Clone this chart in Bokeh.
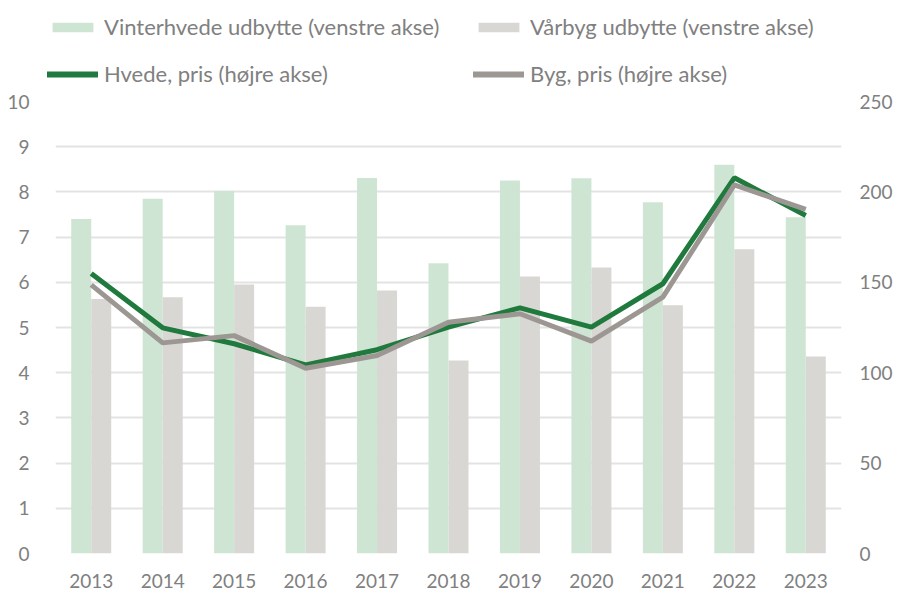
from bokeh.plotting import figure
from bokeh.layouts import column
from bokeh.models import (ColumnDataSource, FactorRange, Range1d, LinearAxis,
                          Legend, LegendItem, FixedTicker)
from bokeh.transform import dodge
from bokeh.embed import file_html
from bokeh.resources import INLINE

years = ["2013", "2014", "2015", "2016", "2017", "2018", "2019", "2020", "2021", "2022", "2023"]
vinterhvede_udbytte = [7.40, 7.85, 8.02, 7.26, 8.31, 6.42, 8.25, 8.30, 7.77, 8.60, 7.44]
vaarbyg_udbytte = [5.63, 5.67, 5.95, 5.46, 5.82, 4.27, 6.13, 6.33, 5.49, 6.73, 4.36]
hvede_pris = [154.9, 124.8, 116.0, 104.3, 112.7, 125.2, 135.9, 125.2, 149.2, 207.8, 186.9]
byg_pris = [148.6, 116.5, 120.5, 102.5, 109.5, 127.9, 132.6, 117.5, 141.8, 203.9, 190.3]

left_ticks = [0, 1, 2, 3, 4, 5, 6, 7, 8, 9, 10]
right_ticks = [0, 50, 100, 150, 200, 250]

labels = ["Vinterhvede udbytte (venstre akse)", "Vårbyg udbytte (venstre akse)",
          "Hvede, pris (højre akse)", "Byg, pris (højre akse)"]

FONT = "Lato"
TXT = "#808080"
GREEN_BAR = "#cfe5d3"
GREY_BAR = "#d9d7d3"
GREEN_LINE = "#217a3d"
GREY_LINE = "#9c9792"

W = 898
TOP_H = 87
MAIN_H = 506

src = ColumnDataSource(dict(year=years, wheat=vinterhvede_udbytte, barley=vaarbyg_udbytte,
                            wp=hvede_pris, bp=byg_pris))

p = figure(width=W, height=MAIN_H, output_backend="svg", toolbar_location=None,
           x_range=FactorRange(factors=years, range_padding=0),
           y_range=Range1d(0, 10))
p.min_border_left = 55
p.min_border_right = 57
p.min_border_top = 14
p.min_border_bottom = 40
p.outline_line_color = None
p.background_fill_color = "white"
p.border_fill_color = "white"

p.extra_y_ranges = {"price": Range1d(0, 250)}

p.vbar(x=dodge("year", -0.14, range=p.x_range), top="wheat", width=0.28,
       source=src, fill_color=GREEN_BAR, line_color=None)
p.vbar(x=dodge("year", 0.14, range=p.x_range), top="barley", width=0.28,
       source=src, fill_color=GREY_BAR, line_color=None)
p.line(x="year", y="wp", source=src, y_range_name="price",
       line_color=GREEN_LINE, line_width=5)
p.line(x="year", y="bp", source=src, y_range_name="price",
       line_color=GREY_LINE, line_width=5)

# axes
p.yaxis.ticker = FixedTicker(ticks=left_ticks)
right = LinearAxis(y_range_name="price", ticker=FixedTicker(ticks=right_ticks))
p.add_layout(right, "right")

for ax in [p.xaxis[0], p.yaxis[0], right]:
    ax.axis_line_color = None
    ax.major_tick_line_color = None
    ax.minor_tick_line_color = None
    ax.major_label_text_font = FONT
    ax.major_label_text_font_size = "19px"
    ax.major_label_text_color = TXT

p.xaxis.major_label_standoff = 14
p.yaxis[0].major_label_standoff = 20
right.major_label_standoff = 12

p.xgrid.grid_line_color = None
p.ygrid.grid_line_color = "#e3e3e3"
p.ygrid.grid_line_width = 2

# legend strip (separate figure so the legend isn't clipped to the chart frame)
lg = figure(width=W, height=TOP_H, output_backend="svg", toolbar_location=None,
            x_range=Range1d(0, W), y_range=Range1d(0, TOP_H),
            x_axis_location=None, y_axis_location=None)
lg.min_border = 0
lg.grid.visible = False
lg.outline_line_color = None
lg.border_fill_color = "white"
lg.background_fill_color = "white"
for fig in (lg, p):
    try:
        fig.frame_align = False
    except Exception:
        pass

dummy = ColumnDataSource(dict(x=[-1000, -999], y=[-1000, -999]))
d1 = lg.vbar(x="x", top="y", width=1, source=dummy, fill_color=GREEN_BAR, line_color=None)
d2 = lg.vbar(x="x", top="y", width=1, source=dummy, fill_color=GREY_BAR, line_color=None)
d3 = lg.line(x="x", y="y", source=dummy, line_color=GREEN_LINE, line_width=6, line_cap="round")
d4 = lg.line(x="x", y="y", source=dummy, line_color=GREY_LINE, line_width=6, line_cap="round")


def make_legend(items, x):
    leg = Legend(items=items, location=(x, 0))
    leg.label_text_font = FONT
    leg.label_text_font_size = "22px"
    leg.label_text_color = TXT
    leg.glyph_width = 51
    leg.glyph_height = 12
    leg.label_standoff = 6
    leg.spacing = 20
    leg.padding = 0
    leg.margin = 0
    leg.border_line_color = None
    leg.background_fill_alpha = 0
    return leg


lg.add_layout(make_legend([LegendItem(label=labels[0], renderers=[d1]),
                           LegendItem(label=labels[2], renderers=[d3])], 47), "center")
lg.add_layout(make_legend([LegendItem(label=labels[1], renderers=[d2]),
                           LegendItem(label=labels[3], renderers=[d4])], 473), "center")

layout = column(lg, p, spacing=0)
open("out.html", "w").write(file_html(layout, INLINE))
